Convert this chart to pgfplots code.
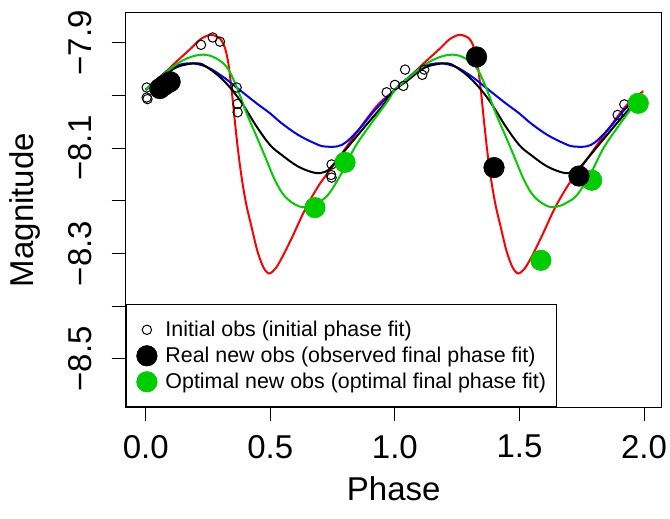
\documentclass[border=0pt]{standalone}
\usepackage{pgfplots}
\pgfplotsset{compat=1.18}
\usepackage{fontspec}
\setmainfont{Liberation Sans}
\definecolor{rgreen}{RGB}{0,205,0}
\begin{document}
\begin{tikzpicture}
\begin{axis}[
  at={(0,0)}, anchor=south west,
  scale only axis, width=536bp, height=394.6bp,
  xmin=-0.0803, xmax=2.071, ymin=-8.592, ymax=-7.843,
  axis line style={line width=1bp},
  every tick/.style={black, line width=1bp},
  tick align=outside, major tick length=14bp,
  tick pos=left,
  xtick={0,0.5,1,1.5,2}, xticklabels={0.0,0.5,1.0,1.5,2.0},
  ytick={-8.5,-8.4,-8.3,-8.2,-8.1,-8.0,-7.9},
  yticklabels={−8.5,,−8.3,,−8.1,,−7.9},
  ticklabel style={font=\fontsize{33bp}{38bp}\selectfont, inner sep=0pt},
  xticklabel style={anchor=north},
  xticklabel shift=13.7bp,
  yticklabel style={rotate=90, anchor=south},
  yticklabel shift=20bp,
  label style={font=\fontsize{33bp}{38bp}\selectfont, inner sep=0pt},
  xlabel={Phase}, ylabel={Magnitude},
  xlabel style={at={(axis description cs:0.5,-0.1759)}, anchor=north},
  ylabel style={at={(axis description cs:-0.1724,0.5)}, rotate=0, anchor=base},
  legend image code/.code={\path[draw=none,fill=none] (-10.7bp,-13bp) rectangle (10.7bp,13bp); \draw[#1] plot coordinates {(0bp,0bp)};},
  legend style={at={(axis description cs:0,0)}, anchor=south west, draw=black, line width=1bp, fill=white,
    inner xsep=10bp, inner ysep=12bp, row sep=0pt, column sep=7.9bp,
    font=\fontsize{21.4bp}{25bp}\selectfont, nodes={inner sep=0pt}},
  legend cell align=left,
]
\addlegendimage{only marks, mark=o, mark size=4.7bp, black, line width=1bp}
\addlegendentry{Initial obs (initial phase fit)}
\addlegendimage{only marks, mark=*, mark size=10.3bp, black, line width=0.5bp}
\addlegendentry{Real new obs (observed final phase fit)}
\addlegendimage{only marks, mark=*, mark size=10.3bp, rgreen, line width=0.5bp}
\addlegendentry{Optimal new obs (optimal final phase fit)}

% red curve
\addplot[forget plot, red, line width=2bp, smooth, tension=0.5] coordinates {
(0.000,-7.990) (0.057,-7.966) (0.114,-7.940) (0.181,-7.911) (0.221,-7.893) (0.261,-7.885)
(0.298,-7.892) (0.318,-7.910) (0.332,-7.940) (0.345,-7.990) (0.358,-8.050) (0.372,-8.110)
(0.388,-8.165) (0.405,-8.210) (0.425,-8.250) (0.448,-8.295) (0.472,-8.326) (0.495,-8.338)
(0.522,-8.328) (0.549,-8.306) (0.589,-8.268) (0.642,-8.214) (0.696,-8.170) (0.750,-8.135)
(0.816,-8.091) (0.883,-8.047) (0.937,-8.015)
(1.000,-7.990) (1.057,-7.966) (1.114,-7.940) (1.181,-7.911) (1.221,-7.893) (1.261,-7.885)
(1.298,-7.892) (1.318,-7.910) (1.332,-7.940) (1.345,-7.990) (1.358,-8.050) (1.372,-8.110)
(1.388,-8.165) (1.405,-8.210) (1.425,-8.250) (1.448,-8.295) (1.472,-8.326) (1.495,-8.338)
(1.522,-8.328) (1.549,-8.306) (1.589,-8.268) (1.642,-8.214) (1.696,-8.170) (1.750,-8.135)
(1.816,-8.091) (1.883,-8.047) (1.937,-8.015) (1.997,-7.992)};
% blue curve
\addplot[forget plot, blue, line width=2bp, smooth, tension=0.6] coordinates {
(0.000,-7.989) (0.057,-7.965) (0.111,-7.946) (0.178,-7.939) (0.245,-7.946) (0.311,-7.965)
(0.378,-7.990) (0.445,-8.015) (0.499,-8.034) (0.546,-8.053) (0.612,-8.075) (0.679,-8.091)
(0.720,-8.097) (0.787,-8.094) (0.853,-8.066) (0.920,-8.028)
(1.000,-7.989) (1.057,-7.965) (1.111,-7.946) (1.178,-7.939) (1.245,-7.946) (1.311,-7.965)
(1.378,-7.990) (1.445,-8.015) (1.499,-8.034) (1.546,-8.053) (1.612,-8.075) (1.679,-8.091)
(1.720,-8.097) (1.787,-8.094) (1.853,-8.066) (1.920,-8.028) (1.975,-8.001)};
% black curve
\addplot[forget plot, black, line width=2bp, smooth, tension=0.6] coordinates {
(0.000,-7.990) (0.050,-7.972) (0.098,-7.954) (0.138,-7.944) (0.205,-7.939) (0.245,-7.946)
(0.311,-7.971) (0.378,-8.009) (0.445,-8.059) (0.499,-8.094) (0.546,-8.113) (0.612,-8.135)
(0.679,-8.147) (0.720,-8.145) (0.746,-8.135) (0.813,-8.097) (0.880,-8.059) (0.947,-8.022)
(1.000,-7.990) (1.050,-7.972) (1.098,-7.954) (1.138,-7.944) (1.205,-7.939) (1.245,-7.946)
(1.311,-7.971) (1.378,-8.009) (1.445,-8.059) (1.499,-8.094) (1.546,-8.113) (1.612,-8.135)
(1.679,-8.147) (1.720,-8.145) (1.746,-8.135) (1.813,-8.097) (1.880,-8.059) (1.947,-8.022)
(1.975,-8.005)};
% green curve
\addplot[forget plot, rgreen, line width=2bp, smooth, tension=0.6] coordinates {
(0.000,-7.990) (0.084,-7.955) (0.151,-7.933) (0.218,-7.923) (0.271,-7.927) (0.325,-7.946)
(0.365,-7.984) (0.405,-8.034) (0.445,-8.078) (0.479,-8.116) (0.519,-8.161) (0.559,-8.192)
(0.612,-8.210) (0.652,-8.211) (0.692,-8.203) (0.733,-8.188) (0.787,-8.147) (0.840,-8.098)
(0.907,-8.052) (0.974,-8.009)
(1.000,-7.990) (1.084,-7.955) (1.151,-7.933) (1.218,-7.923) (1.271,-7.927) (1.325,-7.946)
(1.365,-7.984) (1.405,-8.034) (1.445,-8.078) (1.479,-8.116) (1.519,-8.161) (1.559,-8.192)
(1.612,-8.210) (1.652,-8.211) (1.692,-8.203) (1.733,-8.188) (1.787,-8.147) (1.840,-8.098)
(1.907,-8.052) (1.975,-8.008)};
% initial obs
\addplot[forget plot, only marks, mark=o, mark size=4.7bp, black, line width=1bp] coordinates {
(0.004,-7.985) (0.004,-8.004) (0.007,-8.007) (0.222,-7.904) (0.269,-7.890) (0.298,-7.898)
(0.365,-7.985) (0.369,-8.016) (0.369,-8.032) (0.746,-8.131) (0.744,-8.151) (0.746,-8.156)
(0.967,-7.994) (1.000,-7.980) (1.034,-7.982) (1.041,-7.951) (1.110,-7.961) (1.118,-7.951)
(1.894,-8.037) (1.921,-8.017)};
% optimal new obs
\addplot[forget plot, only marks, mark=*, mark size=10.3bp, rgreen, line width=0.5bp] coordinates {
(0.679,-8.213) (0.800,-8.127) (1.586,-8.313) (1.790,-8.161) (1.977,-8.015)};
% real new obs
\addplot[forget plot, only marks, mark=*, mark size=10.3bp, black, line width=0.5bp] coordinates {
(0.057,-7.987) (0.077,-7.980) (0.098,-7.974) (1.328,-7.927) (1.398,-8.137) (1.739,-8.153)};
\end{axis}
\pgfresetboundingbox
\path[use as bounding box] (-125.7bp,-111.7bp) rectangle (544.3bp,407.3bp);
\end{tikzpicture}
\end{document}
